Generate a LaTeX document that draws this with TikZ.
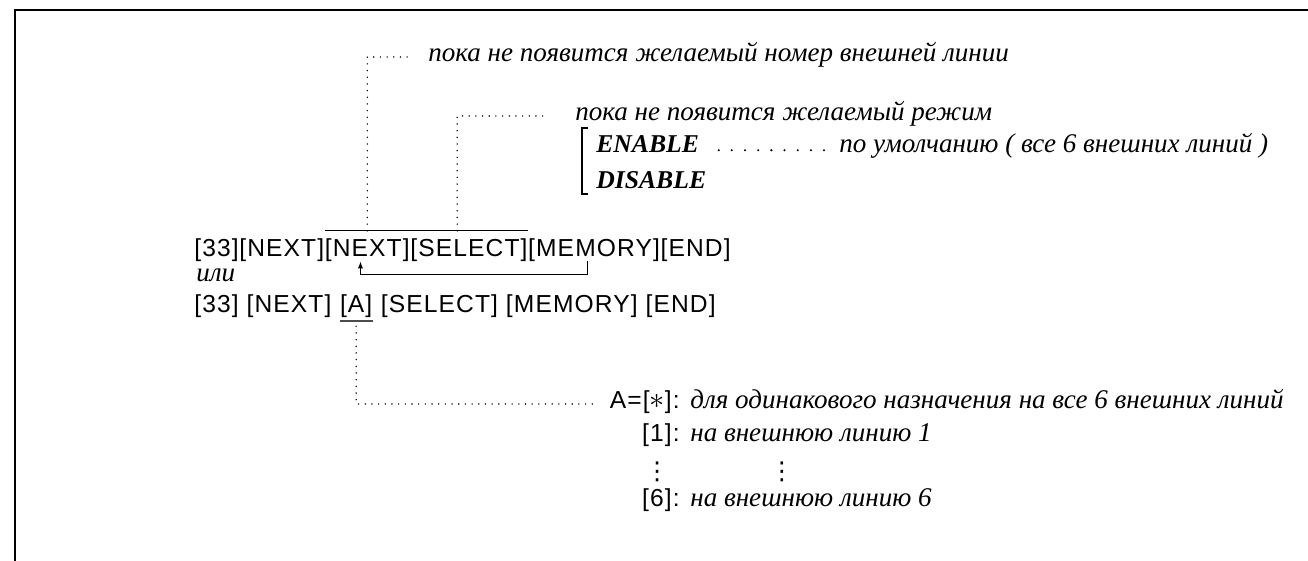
\documentclass[tikz,border=0pt]{standalone}
\usepackage{fontspec}
\setmainfont{Liberation Serif}
\newfontfamily\keyfamily[LetterSpace=4.5]{Liberation Sans}
\newfontfamily\symfamily{DejaVu Sans}
\usetikzlibrary{positioning,calc,arrows.meta}

\newcommand{\keyfont}{\keyfamily\fontsize{14}{16}\selectfont}
\newcommand{\notefont}{\itshape\fontsize{15.4}{18}\selectfont}
\newcommand{\modefont}{\bfseries\itshape\fontsize{14.6}{18}\selectfont}

\begin{document}
\begin{tikzpicture}[
    x=0.02cm, y=-0.02cm,
    key/.style={inner sep=0pt, anchor=base west, font=\keyfont},
    note/.style={inner sep=0pt, anchor=base west, font=\notefont},
    mode/.style={inner sep=0pt, anchor=base west, font=\modefont},
    vdot/.style={inner sep=0pt, font=\symfamily\fontsize{14}{14}\selectfont},
    frame/.style={line width=1.3pt},
    thinline/.style={line width=0.6pt},
    uline/.style={line width=0.8pt, draw=black!70},
    back/.style={line width=0.6pt, -{Latex[length=4pt,width=3pt]}},
    lead/.style={line width=0.9pt, line cap=round, dash pattern=on 0pt off 3.8pt},
    leadwide/.style={line width=1.3pt, line cap=round, dash pattern=on 0pt off 7.5pt}
]
    \useasboundingbox (0,0) rectangle (1308,561);

    % page edge
    \coordinate (fbot) at (15,561);
    \coordinate (fcorner) at (15,10);
    \coordinate (fright) at (1308,10);
    \draw[frame] (fbot) -- (fcorner) -- (fright);

    % first key sequence
    \node[key] (k33)   at (194,256) {[33]};
    \node[key] (knext) at (k33.base east) {[NEXT]};
    \node[key] (krep)  at (knext.base east) {[NEXT]};
    \node[key] (ksel)  at (krep.base east) {[SELECT]};
    \node[key] (kmem)  at (ksel.base east) {[MEMORY]};
    \node[key] (kend)  at (kmem.base east) {[END]};

    \node[note] (ili) at (196,281) {или};

    % second key sequence
    \node[key] (m33) at (194,312) {[33] [NEXT]};
    \node[key, right=4.5pt of m33.base east, anchor=base west] (ma) {[A]};
    \node[key, right=4.5pt of ma.base east, anchor=base west] (mrest) {[SELECT] [MEMORY] [END]};

    % repeated part
    \coordinate (olw) at ([yshift=4pt]krep.north west);
    \coordinate (ole) at ([yshift=4pt]ksel.north east);
    \draw[thinline] (olw) -- (ole);

    \coordinate (tline) at (krep.north |- olw);
    \coordinate (tmodex) at ($(ksel.north west)!0.4!(ksel.north east)$);
    \coordinate (tmode) at (tmodex |- olw);

    \node[note] (nline) at (428,61) {пока не появится желаемый номер внешней линии};
    \coordinate (cline) at (tline |- nline.mid west);
    \draw[lead] (tline) -- (cline) -- ([xshift=-11pt]nline.mid west);

    \node[note] (nmode) at (575,120) {пока не появится желаемый режим};
    \coordinate (cmode) at (tmode |- nmode.mid west);
    \draw[lead] (tmode) -- (cmode) -- ([xshift=-15pt]nmode.mid west);

    % modes
    \node[mode] (enable)  at (596,152) {ENABLE};
    \node[mode] (disable) at (596,188) {DISABLE};
    \coordinate (brtop) at (588,128);
    \coordinate (brbot) at (588,194);
    \draw[thinline] (brtop) -- ++(-6,0) |- (brbot);

    \node[note] (ndefault) at (839,152) {по умолчанию ( все 6 внешних линий )};
    \draw[leadwide] ([xshift=11pt,yshift=1pt]enable.base east) -- ([xshift=-6pt,yshift=1pt]ndefault.base west);

    % loop back
    \coordinate (rfrom) at ($(kmem.south west)!0.45!(kmem.south east)$);
    \coordinate (rto) at ($(krep.south west)!0.42!(krep.south east)$);
    \coordinate (rloop) at ([yshift=-0.26cm]rfrom);
    \draw[back] (rfrom) -- (rloop) -| (rto);

    % line choice
    \coordinate (ulw) at ([yshift=-2pt]ma.south west);
    \coordinate (ule) at ([yshift=-2pt]ma.south east);
    \draw[uline] (ulw) -- (ule);
    \coordinate (atop) at ([yshift=-5pt]ma.south);

    \node[key, anchor=base east] (lall) at (680,408) {A=[{\fontsize{19}{19}\selectfont$\ast$}]:};
    \node[note] (tall) at (690,408) {для одинакового назначения на все 6 внешних линий};
    \coordinate (acorner) at (atop |- lall.mid west);
    \draw[lead] (atop) -- (acorner) -- ([xshift=-8pt]lall.mid west);

    \node[key, anchor=base east] (lone) at (680,441) {[1]:};
    \node[note] (tone) at (690,441) {на внешнюю линию 1};

    \coordinate (vrow) at (0,472);
    \coordinate (vkeyx) at ([xshift=-13pt]lone.base east);
    \coordinate (vnotex) at ($(tone.base west)!0.38!(tone.base east)$);
    \node[vdot] (vkey) at (vkeyx |- vrow) {⋮};
    \node[vdot] (vnote) at (vnotex |- vrow) {⋮};

    \node[key, anchor=base east] (lsix) at (680,506) {[6]:};
    \node[note] (tsix) at (690,506) {на внешнюю линию 6};
\end{tikzpicture}
\end{document}
